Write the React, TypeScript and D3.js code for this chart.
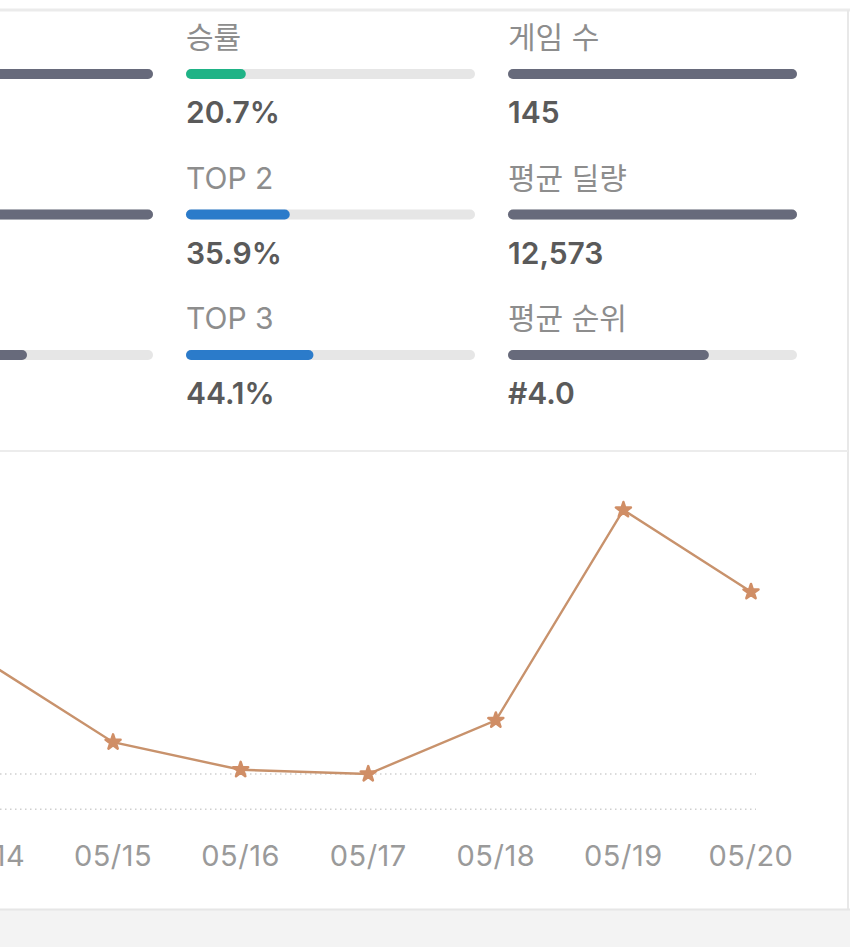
import React from "react";
import * as d3 from "d3";

// ---- data ----
const leftFractions = [1, 1, 0.564];
const midLabels = ["승률", "TOP 2", "TOP 3"];
const midValues = ["20.7%", "35.9%", "44.1%"];
const midFractions = [0.207, 0.359, 0.441];
const rightLabels = ["게임 수", "평균 딜량", "평균 순위"];
const rightValues = ["145", "12,573", "#4.0"];
const rightFractions = [1, 1, 0.695];

const dates = ["05/14", "05/15", "05/16", "05/17", "05/18", "05/19", "05/20"];
const dailyValues = [21.0, 9.5, 5.6, 5.0, 12.6, 42.4, 30.8];
const gridValues = [5, 0];

const W = 850;
const H = 947;
const FONT = "Inter, 'Noto Sans CJK KR', sans-serif";

const colWidth = 289;
const colStarts = [-136, 186, 508];
const rowBarY = [74, 214.5, 355];

function App() {
  const x = d3.scalePoint<string>().domain(dates).range([-14.5, 751]);
  const y = d3.scaleLinear().domain([0, 45]).range([809.3, 491.6]);
  const line = d3
    .line<number>()
    .x((_, i) => x(dates[i]) as number)
    .y((d) => y(d));
  const star = d3.symbol(d3.symbolStar, 70)() as string;

  const barColorMid = ["#1fb386", "#2b7bca", "#2b7bca"];
  const dark = "#676a7b";
  const track = "#e6e6e6";

  const renderCol = (
    ci: number,
    fracs: number[],
    colors: string[],
    labels?: string[],
    values?: string[]
  ) => {
    const xs = d3.scaleLinear().domain([0, 1]).range([colStarts[ci], colStarts[ci] + colWidth]);
    return fracs.map((f, i) => {
      const cy = rowBarY[i];
      return (
        <g key={`c${ci}-${i}`}>
          {labels && (
            <text x={colStarts[ci]} y={cy - 26} fontSize={30} fill="#8d8d8d" fontFamily={FONT}>
              {labels[i]}
            </text>
          )}
          <rect x={xs(0)} y={cy - 5} width={colWidth} height={10} rx={5} fill={track} />
          <rect x={xs(0)} y={cy - 5} width={xs(f) - xs(0)} height={10} rx={5} fill={colors[i]} />
          {values && (
            <text x={colStarts[ci]} y={cy + 49} fontSize={30} fontWeight={600} fill="#5a5a5a" fontFamily={FONT}>
              {values[i]}
            </text>
          )}
        </g>
      );
    });
  };

  return (
    <svg
      width={W}
      height={H}
      style={{ position: "absolute", left: 0, top: 0, background: "#ffffff" }}
    >
      <rect x={0} y={0} width={W} height={H} fill="#ffffff" />
      {/* page background below card */}
      <rect x={0} y={910} width={W} height={H - 910} fill="#f3f3f3" />
      {/* card borders */}
      <rect x={0} y={8.5} width={W} height={3} fill="#ebebeb" />
      <rect x={847} y={10} width={2} height={900} fill="#e8e8e8" />
      <rect x={0} y={450} width={848} height={2} fill="#ececec" />
      <rect x={0} y={908.5} width={W} height={2} fill="#e6e6e6" />

      {renderCol(0, leftFractions, [dark, dark, dark])}
      {renderCol(1, midFractions, barColorMid, midLabels, midValues)}
      {renderCol(2, rightFractions, [dark, dark, dark], rightLabels, rightValues)}

      {/* grid */}
      {gridValues.map((g) => (
        <line
          key={`g${g}`}
          x1={0}
          x2={756}
          y1={y(g)}
          y2={y(g)}
          stroke="#cfcfcf"
          strokeWidth={1.5}
          strokeDasharray="1.5 3.5"
        />
      ))}

      {/* line */}
      <path d={line(dailyValues) as string} fill="none" stroke="#c8926c" strokeWidth={2.4} />
      {dailyValues.map((v, i) => (
        <path
          key={`m${i}`}
          d={star}
          transform={`translate(${x(dates[i])},${y(v)})`}
          fill="#d08e66"
          stroke="#d08e66"
          strokeWidth={2.5}
          strokeLinejoin="round"
        />
      ))}

      {/* x axis labels */}
      {dates.map((d) => (
        <text
          key={`t${d}`}
          x={x(d)}
          y={866}
          textAnchor="middle"
          fontSize={29}
          fill="#9a9a9a"
          letterSpacing={0.5}
          fontFamily={FONT}
        >
          {d}
        </text>
      ))}
    </svg>
  );
}

export default App;
